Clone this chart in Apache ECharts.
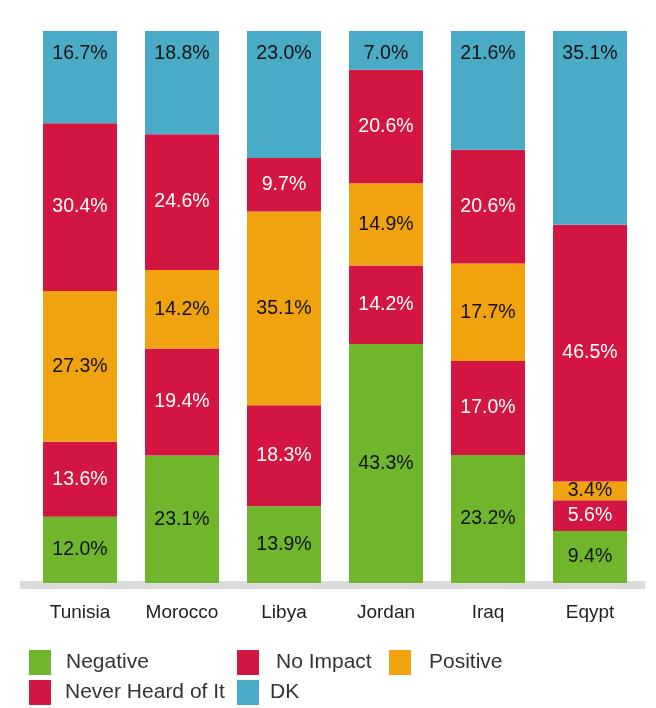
<!DOCTYPE html>
<html><head><meta charset="utf-8">
<script src="https://cdn.jsdelivr.net/npm/echarts@6/dist/echarts.min.js"></script>
<style>html,body{margin:0;padding:0;background:#fff}#c{width:656px;height:708px}</style>
</head><body><div id="c"></div>
<script>
const categories = ['Tunisia','Morocco','Libya','Jordan','Iraq','Eqypt'];
const negative = [12.0, 23.1, 13.9, 43.3, 23.2, 9.4];
const noImpact = [13.6, 19.4, 18.3, 14.2, 17.0, 5.6];
const positive = [27.3, 14.2, 35.1, 14.9, 17.7, 3.4];
const neverHeard = [30.4, 24.6, 9.7, 20.6, 20.6, 46.5];
const dk = [16.7, 18.8, 23.0, 7.0, 21.6, 35.1];

const FONT = '"Liberation Sans", Arial, sans-serif';
const GREEN = '#6fb62c', RED = '#d31641', ORANGE = '#f0a30f', BLUE = '#4aabc6';

function mk(name, data, color, labelColor, pos, dist) {
  return {
    name, type: 'bar', stack: 'all', data, barWidth: 74,
    itemStyle: { color },
    label: {
      show: true, position: pos, distance: dist || 5,
      formatter: p => p.value.toFixed(1) + '%',
      color: labelColor, fontFamily: FONT, fontSize: 19.5
    }
  };
}
function lg(name, left, top, gap) {
  return {
    data: [name], left, top, padding: 0, itemWidth: 22, itemHeight: 25,
    icon: 'rect', selectedMode: false,
    textStyle: { fontFamily: FONT, fontSize: 21, color: '#333', padding: [0, 0, 0, gap - 5] }
  };
}
const chart = echarts.init(document.getElementById('c'));
chart.setOption({
  animation: false,
  grid: { left: 29, right: 15, top: 31, bottom: 125 },
  graphic: [{ type: 'rect', left: 20, top: 581, shape: { width: 625, height: 8 }, style: { fill: '#dcdcdc' }, z: 0 }],
  xAxis: {
    type: 'category', data: categories,
    axisLine: { show: false }, axisTick: { show: false },
    axisLabel: { fontFamily: FONT, fontSize: 19, color: '#222', margin: 20 }
  },
  yAxis: { type: 'value', min: 0, max: 100, show: false, splitLine: { show: false } },
  legend: [
    lg('Negative', 29, 650, 15),
    lg('No Impact', 237, 650, 17),
    lg('Positive', 389, 650, 18),
    lg('Never Heard of It', 29, 680, 14),
    lg('DK', 237, 680, 11)
  ],
  series: [
    mk('Negative', negative, GREEN, '#111', 'inside'),
    mk('No Impact', noImpact, RED, '#fff', 'inside'),
    mk('Positive', positive, ORANGE, '#111', 'inside'),
    mk('Never Heard of It', neverHeard, RED, '#fff', 'inside'),
    mk('DK', dk, BLUE, '#111', 'insideTop', 13)
  ]
});
</script></body></html>
